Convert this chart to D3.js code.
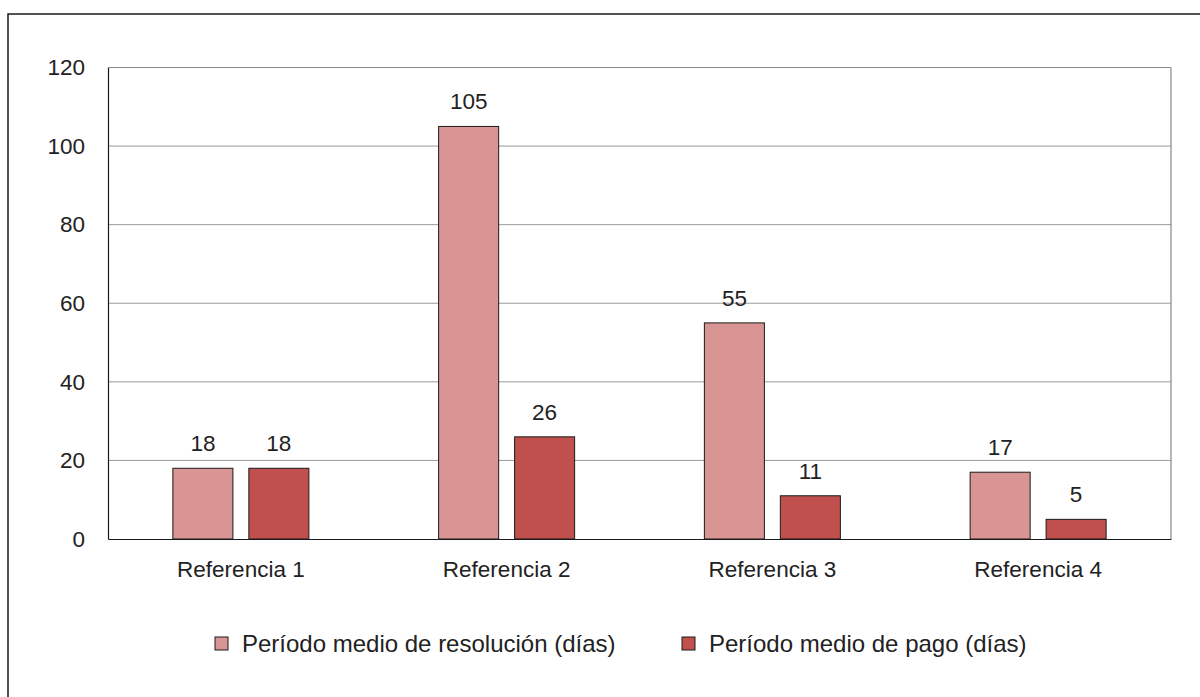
<!DOCTYPE html>
<html>
<head>
<meta charset="utf-8">
<script src="https://cdn.jsdelivr.net/npm/d3@7"></script>
<style>
  body { margin: 0; background: #fff; }
  text { font-family: "Liberation Sans", Arial, sans-serif; fill: #222; }
</style>
</head>
<body>
<script>
const categories = ['Referencia 1', 'Referencia 2', 'Referencia 3', 'Referencia 4'];
const seriesNames = ['Período medio de resolución (días)', 'Período medio de pago (días)'];
const resolucion = [18, 105, 55, 17];
const pago = [18, 26, 11, 5];
const yTicks = [0, 20, 40, 60, 80, 100, 120];
const colors = ['#d99594', '#c0504d'];

const W = 1200, H = 697;
const FONT = '"Liberation Sans", Arial, sans-serif';
const FS = 22.5;
const plot = {left: 108, right: 1171, top: 67.5, bottom: 539};

const svg = d3.select('body')
              .append('svg')
                .attr('width', W)
                .attr('height', H);

// outer frame
svg.append('rect')
    .attr('x', 8).attr('y', 14)
    .attr('width', W).attr('height', H)
    .attr('fill', 'none')
    .attr('stroke', '#1a1a1a')
    .attr('stroke-width', 1.5);

const x = d3.scaleBand()
            .domain(categories)
            .range([plot.left, plot.right]);
const inner = d3.scaleBand()
            .domain([0, 1])
            .range([-68, 68])
            .paddingInner(0.21);
const y = d3.scaleLinear()
            .domain([0, 120])
            .range([plot.bottom, plot.top]);

// gridlines
svg.append('g')
    .selectAll('line')
    .data(yTicks.filter(t => t > 0))
    .enter()
        .append('line')
            .attr('x1', plot.left).attr('x2', plot.right)
            .attr('y1', d => y(d)).attr('y2', d => y(d))
            .attr('stroke', '#9a9a9a')
            .attr('stroke-width', 1);

// plot border right + top
svg.append('line')
    .attr('x1', plot.right).attr('x2', plot.right)
    .attr('y1', plot.top).attr('y2', plot.bottom)
    .attr('stroke', '#888').attr('stroke-width', 1.2);
svg.append('line')
    .attr('x1', plot.left).attr('x2', plot.right)
    .attr('y1', plot.top).attr('y2', plot.top)
    .attr('stroke', '#888').attr('stroke-width', 1.2);

// y axis
const yAxis = svg.append('g')
    .attr('transform', `translate(${plot.left},0)`)
    .call(d3.axisLeft(y).tickValues(yTicks).tickSize(0).tickPadding(23));
yAxis.select('.domain').attr('stroke', '#1a1a1a').attr('stroke-width', 1.2);
yAxis.selectAll('text')
    .attr('font-size', FS)
    .attr('font-family', FONT)
    .attr('fill', '#222');

// bars
const data = categories.map((c, i) => ({cat: c, values: [resolucion[i], pago[i]]}));
const groups = svg.append('g')
    .selectAll('g')
    .data(data)
    .enter()
        .append('g')
            .attr('transform', d => `translate(${x(d.cat) + x.bandwidth() / 2},0)`);

groups.selectAll('rect')
    .data(d => d.values.map((v, k) => ({k, v})))
    .enter()
        .append('rect')
            .attr('x', d => inner(d.k))
            .attr('width', inner.bandwidth())
            .attr('y', d => y(d.v))
            .attr('height', d => y(0) - y(d.v))
            .attr('fill', d => colors[d.k])
            .attr('stroke', '#1a1a1a')
            .attr('stroke-width', 1);

groups.selectAll('text.val')
    .data(d => d.values.map((v, k) => ({k, v})))
    .enter()
        .append('text')
            .attr('class', 'val')
            .attr('x', d => inner(d.k) + inner.bandwidth() / 2)
            .attr('y', d => y(d.v) - 17)
            .attr('text-anchor', 'middle')
            .attr('font-size', FS)
            .text(d => d.v);

// x axis
const xAxis = svg.append('g')
    .attr('transform', `translate(0,${plot.bottom})`)
    .call(d3.axisBottom(x).tickSize(0).tickPadding(22));
xAxis.select('.domain').attr('stroke', '#1a1a1a').attr('stroke-width', 1.2);
xAxis.selectAll('text')
    .attr('font-size', FS)
    .attr('font-family', FONT)
    .attr('fill', '#222');

// legend
const legendX = [215, 682];
const legend = svg.append('g')
    .selectAll('g')
    .data(seriesNames)
    .enter()
        .append('g')
            .attr('transform', (d, i) => `translate(${legendX[i]},637)`);
legend.append('rect')
    .attr('width', 13).attr('height', 13)
    .attr('fill', (d, i) => colors[i])
    .attr('stroke', '#1a1a1a')
    .attr('stroke-width', 1);
legend.append('text')
    .attr('x', 27).attr('y', 14.5)
    .attr('font-size', 24)
    .text(d => d);
</script>
</body>
</html>
